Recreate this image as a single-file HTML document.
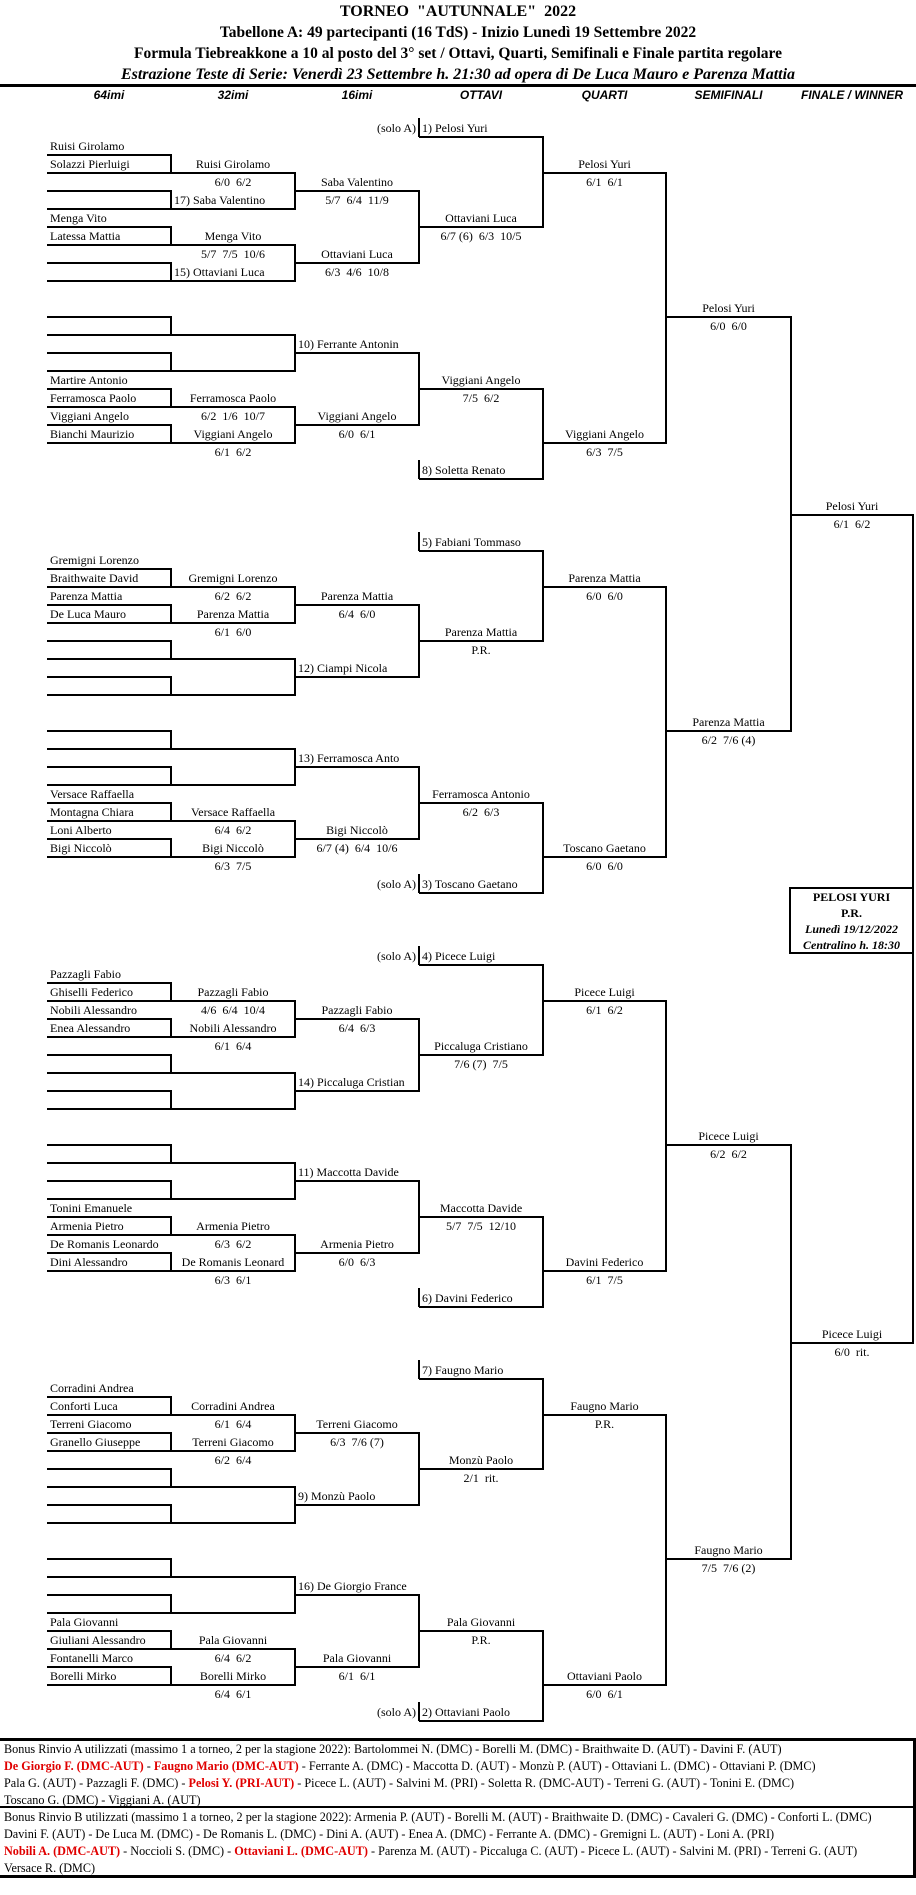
<!DOCTYPE html>
<html><head><meta charset="utf-8">
<style>
body{margin:0;width:916px;height:1895px;position:relative;background:#fff;overflow:hidden;font-family:"Liberation Serif","Times New Roman",serif;color:#000}
.t{position:absolute;height:18px;line-height:18px;font-size:12px;white-space:nowrap;overflow:visible}
.c0{left:47px;width:124px}.c1{left:171px;width:124px}.c2{left:295px;width:124px}.c3{left:419px;width:124px}.c4{left:543px;width:123px}.c5{left:666px;width:125px}.c6{left:791px;width:122px}
.l{text-align:left;padding-left:3px;box-sizing:border-box}.c{text-align:center}.r{text-align:right;padding-right:3px;box-sizing:border-box}
.ln{position:absolute;background:#000}
.ti{position:absolute;left:0;width:916px;text-align:center;font-weight:bold;font-size:15.5px;line-height:20px;white-space:nowrap}
.hd{position:absolute;top:86px;height:18px;line-height:18px;font-family:"Liberation Sans",Arial,sans-serif;font-style:italic;font-weight:bold;font-size:12px;text-align:center}
.bx{position:absolute;left:4px;font-size:12.2px;line-height:17px;white-space:nowrap}
.red{color:#e00000;font-weight:bold}
</style></head><body>
<div class="ti" style="top:2px;font-size:16px">TORNEO &nbsp;"AUTUNNALE" &nbsp;2022</div>
<div class="ti" style="top:23px">Tabellone A: 49 partecipanti (16 TdS) - Inizio Lunedì 19 Settembre 2022</div>
<div class="ti" style="top:44px">Formula Tiebreakkone a 10 al posto del 3° set / Ottavi, Quarti, Semifinali e Finale partita regolare</div>
<div class="ti" style="top:65px;font-style:italic;font-size:16px">Estrazione Teste di Serie: Venerdì 23 Settembre h. 21:30 ad opera di De Luca Mauro e Parenza Mattia</div>
<div class="ln" style="left:0;top:84px;width:916px;height:3px"></div>
<div class="hd c0">64imi</div><div class="hd c1">32imi</div><div class="hd c2">16imi</div><div class="hd c3">OTTAVI</div><div class="hd c4">QUARTI</div><div class="hd c5">SEMIFINALI</div><div class="hd c6">FINALE / WINNER</div>

<!-- Q1 -->
<div class="t c2 r" style="top:119px">(solo A)</div><div class="t c3 l" style="top:119px">1) Pelosi Yuri</div>
<div class="t c0 l" style="top:137px">Ruisi Girolamo</div>
<div class="t c0 l" style="top:155px">Solazzi Pierluigi</div><div class="t c1 c" style="top:155px">Ruisi Girolamo</div><div class="t c4 c" style="top:155px">Pelosi Yuri</div>
<div class="t c1 c" style="top:173px">6/0 &nbsp;6/2</div><div class="t c2 c" style="top:173px">Saba Valentino</div><div class="t c4 c" style="top:173px">6/1 &nbsp;6/1</div>
<div class="t c1 l" style="top:191px">17) Saba Valentino</div><div class="t c2 c" style="top:191px">5/7 &nbsp;6/4 &nbsp;11/9</div>
<div class="t c0 l" style="top:209px">Menga Vito</div><div class="t c3 c" style="top:209px">Ottaviani Luca</div>
<div class="t c0 l" style="top:227px">Latessa Mattia</div><div class="t c1 c" style="top:227px">Menga Vito</div><div class="t c3 c" style="top:227px">6/7 (6) &nbsp;6/3 &nbsp;10/5</div>
<div class="t c1 c" style="top:245px">5/7 &nbsp;7/5 &nbsp;10/6</div><div class="t c2 c" style="top:245px">Ottaviani Luca</div>
<div class="t c1 l" style="top:263px">15) Ottaviani Luca</div><div class="t c2 c" style="top:263px">6/3 &nbsp;4/6 &nbsp;10/8</div>
<div class="t c5 c" style="top:299px">Pelosi Yuri</div>
<div class="t c5 c" style="top:317px">6/0 &nbsp;6/0</div>
<div class="t c2 l" style="top:335px">10) Ferrante Antonin</div>
<div class="t c0 l" style="top:371px">Martire Antonio</div><div class="t c3 c" style="top:371px">Viggiani Angelo</div>
<div class="t c0 l" style="top:389px">Ferramosca Paolo</div><div class="t c1 c" style="top:389px">Ferramosca Paolo</div><div class="t c3 c" style="top:389px">7/5 &nbsp;6/2</div>
<div class="t c0 l" style="top:407px">Viggiani Angelo</div><div class="t c1 c" style="top:407px">6/2 &nbsp;1/6 &nbsp;10/7</div><div class="t c2 c" style="top:407px">Viggiani Angelo</div>
<div class="t c0 l" style="top:425px">Bianchi Maurizio</div><div class="t c1 c" style="top:425px">Viggiani Angelo</div><div class="t c2 c" style="top:425px">6/0 &nbsp;6/1</div><div class="t c4 c" style="top:425px">Viggiani Angelo</div>
<div class="t c1 c" style="top:443px">6/1 &nbsp;6/2</div><div class="t c4 c" style="top:443px">6/3 &nbsp;7/5</div>
<div class="t c3 l" style="top:461px">8) Soletta Renato</div>
<div class="t c6 c" style="top:497px">Pelosi Yuri</div>
<div class="t c6 c" style="top:515px">6/1 &nbsp;6/2</div>

<!-- Q2 -->
<div class="t c3 l" style="top:533px">5) Fabiani Tommaso</div>
<div class="t c0 l" style="top:551px">Gremigni Lorenzo</div>
<div class="t c0 l" style="top:569px">Braithwaite David</div><div class="t c1 c" style="top:569px">Gremigni Lorenzo</div><div class="t c4 c" style="top:569px">Parenza Mattia</div>
<div class="t c0 l" style="top:587px">Parenza Mattia</div><div class="t c1 c" style="top:587px">6/2 &nbsp;6/2</div><div class="t c2 c" style="top:587px">Parenza Mattia</div><div class="t c4 c" style="top:587px">6/0 &nbsp;6/0</div>
<div class="t c0 l" style="top:605px">De Luca Mauro</div><div class="t c1 c" style="top:605px">Parenza Mattia</div><div class="t c2 c" style="top:605px">6/4 &nbsp;6/0</div>
<div class="t c1 c" style="top:623px">6/1 &nbsp;6/0</div><div class="t c3 c" style="top:623px">Parenza Mattia</div>
<div class="t c3 c" style="top:641px">P.R.</div>
<div class="t c2 l" style="top:659px">12) Ciampi Nicola</div>
<div class="t c5 c" style="top:713px">Parenza Mattia</div>
<div class="t c5 c" style="top:731px">6/2 &nbsp;7/6 (4)</div>
<div class="t c2 l" style="top:749px">13) Ferramosca Anto</div>
<div class="t c0 l" style="top:785px">Versace Raffaella</div><div class="t c3 c" style="top:785px">Ferramosca Antonio</div>
<div class="t c0 l" style="top:803px">Montagna Chiara</div><div class="t c1 c" style="top:803px">Versace Raffaella</div><div class="t c3 c" style="top:803px">6/2 &nbsp;6/3</div>
<div class="t c0 l" style="top:821px">Loni Alberto</div><div class="t c1 c" style="top:821px">6/4 &nbsp;6/2</div><div class="t c2 c" style="top:821px">Bigi Niccolò</div>
<div class="t c0 l" style="top:839px">Bigi Niccolò</div><div class="t c1 c" style="top:839px">Bigi Niccolò</div><div class="t c2 c" style="top:839px">6/7 (4) &nbsp;6/4 &nbsp;10/6</div><div class="t c4 c" style="top:839px">Toscano Gaetano</div>
<div class="t c1 c" style="top:857px">6/3 &nbsp;7/5</div><div class="t c4 c" style="top:857px">6/0 &nbsp;6/0</div>
<div class="t c2 r" style="top:875px">(solo A)</div><div class="t c3 l" style="top:875px">3) Toscano Gaetano</div>

<!-- Winner box -->
<div style="position:absolute;left:789px;top:887px;width:121px;height:63px;border:2px solid #000;border-right:none;text-align:center;font-size:12px;line-height:16px;font-weight:bold">PELOSI YURI<br>P.R.<br><i>Lunedì 19/12/2022</i><br><i>Centralino h. 18:30</i></div>

<!-- Q3 -->
<div class="t c2 r" style="top:947px">(solo A)</div><div class="t c3 l" style="top:947px">4) Picece Luigi</div>
<div class="t c0 l" style="top:965px">Pazzagli Fabio</div>
<div class="t c0 l" style="top:983px">Ghiselli Federico</div><div class="t c1 c" style="top:983px">Pazzagli Fabio</div><div class="t c4 c" style="top:983px">Picece Luigi</div>
<div class="t c0 l" style="top:1001px">Nobili Alessandro</div><div class="t c1 c" style="top:1001px">4/6 &nbsp;6/4 &nbsp;10/4</div><div class="t c2 c" style="top:1001px">Pazzagli Fabio</div><div class="t c4 c" style="top:1001px">6/1 &nbsp;6/2</div>
<div class="t c0 l" style="top:1019px">Enea Alessandro</div><div class="t c1 c" style="top:1019px">Nobili Alessandro</div><div class="t c2 c" style="top:1019px">6/4 &nbsp;6/3</div>
<div class="t c1 c" style="top:1037px">6/1 &nbsp;6/4</div><div class="t c3 c" style="top:1037px">Piccaluga Cristiano</div>
<div class="t c3 c" style="top:1055px">7/6 (7) &nbsp;7/5</div>
<div class="t c2 l" style="top:1073px">14) Piccaluga Cristian</div>
<div class="t c5 c" style="top:1127px">Picece Luigi</div>
<div class="t c5 c" style="top:1145px">6/2 &nbsp;6/2</div>
<div class="t c2 l" style="top:1163px">11) Maccotta Davide</div>
<div class="t c0 l" style="top:1199px">Tonini Emanuele</div><div class="t c3 c" style="top:1199px">Maccotta Davide</div>
<div class="t c0 l" style="top:1217px">Armenia Pietro</div><div class="t c1 c" style="top:1217px">Armenia Pietro</div><div class="t c3 c" style="top:1217px">5/7 &nbsp;7/5 &nbsp;12/10</div>
<div class="t c0 l" style="top:1235px">De Romanis Leonardo</div><div class="t c1 c" style="top:1235px">6/3 &nbsp;6/2</div><div class="t c2 c" style="top:1235px">Armenia Pietro</div>
<div class="t c0 l" style="top:1253px">Dini Alessandro</div><div class="t c1 c" style="top:1253px">De Romanis Leonard</div><div class="t c2 c" style="top:1253px">6/0 &nbsp;6/3</div><div class="t c4 c" style="top:1253px">Davini Federico</div>
<div class="t c1 c" style="top:1271px">6/3 &nbsp;6/1</div><div class="t c4 c" style="top:1271px">6/1 &nbsp;7/5</div>
<div class="t c3 l" style="top:1289px">6) Davini Federico</div>
<div class="t c6 c" style="top:1325px">Picece Luigi</div>
<div class="t c6 c" style="top:1343px">6/0 &nbsp;rit.</div>

<!-- Q4 -->
<div class="t c3 l" style="top:1361px">7) Faugno Mario</div>
<div class="t c0 l" style="top:1379px">Corradini Andrea</div>
<div class="t c0 l" style="top:1397px">Conforti Luca</div><div class="t c1 c" style="top:1397px">Corradini Andrea</div><div class="t c4 c" style="top:1397px">Faugno Mario</div>
<div class="t c0 l" style="top:1415px">Terreni Giacomo</div><div class="t c1 c" style="top:1415px">6/1 &nbsp;6/4</div><div class="t c2 c" style="top:1415px">Terreni Giacomo</div><div class="t c4 c" style="top:1415px">P.R.</div>
<div class="t c0 l" style="top:1433px">Granello Giuseppe</div><div class="t c1 c" style="top:1433px">Terreni Giacomo</div><div class="t c2 c" style="top:1433px">6/3 &nbsp;7/6 (7)</div>
<div class="t c1 c" style="top:1451px">6/2 &nbsp;6/4</div><div class="t c3 c" style="top:1451px">Monzù Paolo</div>
<div class="t c3 c" style="top:1469px">2/1 &nbsp;rit.</div>
<div class="t c2 l" style="top:1487px">9) Monzù Paolo</div>
<div class="t c5 c" style="top:1541px">Faugno Mario</div>
<div class="t c5 c" style="top:1559px">7/5 &nbsp;7/6 (2)</div>
<div class="t c2 l" style="top:1577px">16) De Giorgio France</div>
<div class="t c0 l" style="top:1613px">Pala Giovanni</div><div class="t c3 c" style="top:1613px">Pala Giovanni</div>
<div class="t c0 l" style="top:1631px">Giuliani Alessandro</div><div class="t c1 c" style="top:1631px">Pala Giovanni</div><div class="t c3 c" style="top:1631px">P.R.</div>
<div class="t c0 l" style="top:1649px">Fontanelli Marco</div><div class="t c1 c" style="top:1649px">6/4 &nbsp;6/2</div><div class="t c2 c" style="top:1649px">Pala Giovanni</div>
<div class="t c0 l" style="top:1667px">Borelli Mirko</div><div class="t c1 c" style="top:1667px">Borelli Mirko</div><div class="t c2 c" style="top:1667px">6/1 &nbsp;6/1</div><div class="t c4 c" style="top:1667px">Ottaviani Paolo</div>
<div class="t c1 c" style="top:1685px">6/4 &nbsp;6/1</div><div class="t c4 c" style="top:1685px">6/0 &nbsp;6/1</div>
<div class="t c2 r" style="top:1703px">(solo A)</div><div class="t c3 l" style="top:1703px">2) Ottaviani Paolo</div>

<!-- bottom box -->
<div class="ln" style="left:0;top:1738px;width:916px;height:3px"></div>
<div class="ln" style="left:0;top:1806px;width:916px;height:2px"></div>
<div class="ln" style="left:0;top:1875px;width:916px;height:3px"></div>
<div class="ln" style="left:913px;top:1738px;width:3px;height:140px"></div>
<div class="bx" style="top:1741px">Bonus Rinvio A utilizzati (massimo 1 a torneo, 2 per la stagione 2022): Bartolommei N. (DMC) - Borelli M. (DMC) - Braithwaite D. (AUT) - Davini F. (AUT)</div>
<div class="bx" style="top:1758px"><span class="red">De Giorgio F. (DMC-AUT)</span> - <span class="red">Faugno Mario (DMC-AUT)</span> - Ferrante A. (DMC) - Maccotta D. (AUT) - Monzù P. (AUT) - Ottaviani L. (DMC) - Ottaviani P. (DMC)</div>
<div class="bx" style="top:1775px">Pala G. (AUT) - Pazzagli F. (DMC) - <span class="red">Pelosi Y. (PRI-AUT)</span> - Picece L. (AUT) - Salvini M. (PRI) - Soletta R. (DMC-AUT) - Terreni G. (AUT) - Tonini E. (DMC)</div>
<div class="bx" style="top:1792px">Toscano G. (DMC) - Viggiani A. (AUT)</div>
<div class="bx" style="top:1809px">Bonus Rinvio B utilizzati (massimo 1 a torneo, 2 per la stagione 2022): Armenia P. (AUT) - Borelli M. (AUT) - Braithwaite D. (DMC) - Cavaleri G. (DMC) - Conforti L. (DMC)</div>
<div class="bx" style="top:1826px">Davini F. (AUT) - De Luca M. (DMC) - De Romanis L. (DMC) - Dini A. (AUT) - Enea A. (DMC) - Ferrante A. (DMC) - Gremigni L. (AUT) - Loni A. (PRI)</div>
<div class="bx" style="top:1843px"><span class="red">Nobili A. (DMC-AUT)</span> - Noccioli S. (DMC) - <span class="red">Ottaviani L. (DMC-AUT)</span> - Parenza M. (AUT) - Piccaluga C. (AUT) - Picece L. (AUT) - Salvini M. (PRI) - Terreni G. (AUT)</div>
<div class="bx" style="top:1860px">Versace R. (DMC)</div>

<!-- bracket lines -->
<div class="ln" style="left:47px;top:154px;width:125px;height:2px"></div><div class="ln" style="left:47px;top:172px;width:125px;height:2px"></div><div class="ln" style="left:47px;top:190px;width:125px;height:2px"></div><div class="ln" style="left:47px;top:208px;width:125px;height:2px"></div><div class="ln" style="left:47px;top:226px;width:125px;height:2px"></div><div class="ln" style="left:47px;top:244px;width:125px;height:2px"></div><div class="ln" style="left:47px;top:262px;width:125px;height:2px"></div><div class="ln" style="left:47px;top:280px;width:125px;height:2px"></div><div class="ln" style="left:170px;top:154px;width:2px;height:20px"></div><div class="ln" style="left:171px;top:172px;width:125px;height:2px"></div><div class="ln" style="left:170px;top:190px;width:2px;height:20px"></div><div class="ln" style="left:171px;top:208px;width:125px;height:2px"></div><div class="ln" style="left:170px;top:226px;width:2px;height:20px"></div><div class="ln" style="left:171px;top:244px;width:125px;height:2px"></div><div class="ln" style="left:170px;top:262px;width:2px;height:20px"></div><div class="ln" style="left:171px;top:280px;width:125px;height:2px"></div><div class="ln" style="left:294px;top:172px;width:2px;height:38px"></div><div class="ln" style="left:294px;top:244px;width:2px;height:38px"></div><div class="ln" style="left:295px;top:190px;width:125px;height:2px"></div><div class="ln" style="left:295px;top:262px;width:125px;height:2px"></div><div class="ln" style="left:418px;top:190px;width:2px;height:74px"></div><div class="ln" style="left:419px;top:226px;width:125px;height:2px"></div><div class="ln" style="left:47px;top:316px;width:125px;height:2px"></div><div class="ln" style="left:47px;top:334px;width:125px;height:2px"></div><div class="ln" style="left:47px;top:352px;width:125px;height:2px"></div><div class="ln" style="left:47px;top:370px;width:125px;height:2px"></div><div class="ln" style="left:47px;top:388px;width:125px;height:2px"></div><div class="ln" style="left:47px;top:406px;width:125px;height:2px"></div><div class="ln" style="left:47px;top:424px;width:125px;height:2px"></div><div class="ln" style="left:47px;top:442px;width:125px;height:2px"></div><div class="ln" style="left:170px;top:316px;width:2px;height:20px"></div><div class="ln" style="left:171px;top:334px;width:125px;height:2px"></div><div class="ln" style="left:170px;top:352px;width:2px;height:20px"></div><div class="ln" style="left:171px;top:370px;width:125px;height:2px"></div><div class="ln" style="left:170px;top:388px;width:2px;height:20px"></div><div class="ln" style="left:171px;top:406px;width:125px;height:2px"></div><div class="ln" style="left:170px;top:424px;width:2px;height:20px"></div><div class="ln" style="left:171px;top:442px;width:125px;height:2px"></div><div class="ln" style="left:294px;top:334px;width:2px;height:38px"></div><div class="ln" style="left:294px;top:406px;width:2px;height:38px"></div><div class="ln" style="left:295px;top:352px;width:125px;height:2px"></div><div class="ln" style="left:295px;top:424px;width:125px;height:2px"></div><div class="ln" style="left:418px;top:352px;width:2px;height:74px"></div><div class="ln" style="left:419px;top:388px;width:125px;height:2px"></div><div class="ln" style="left:419px;top:136px;width:125px;height:2px"></div><div class="ln" style="left:418px;top:118px;width:2px;height:19px"></div><div class="ln" style="left:542px;top:136px;width:2px;height:92px"></div><div class="ln" style="left:419px;top:478px;width:125px;height:2px"></div><div class="ln" style="left:418px;top:460px;width:2px;height:19px"></div><div class="ln" style="left:542px;top:388px;width:2px;height:92px"></div><div class="ln" style="left:543px;top:172px;width:124px;height:2px"></div><div class="ln" style="left:543px;top:442px;width:124px;height:2px"></div><div class="ln" style="left:665px;top:172px;width:2px;height:272px"></div><div class="ln" style="left:666px;top:316px;width:126px;height:2px"></div>
<div class="ln" style="left:47px;top:568px;width:125px;height:2px"></div><div class="ln" style="left:47px;top:586px;width:125px;height:2px"></div><div class="ln" style="left:47px;top:604px;width:125px;height:2px"></div><div class="ln" style="left:47px;top:622px;width:125px;height:2px"></div><div class="ln" style="left:47px;top:640px;width:125px;height:2px"></div><div class="ln" style="left:47px;top:658px;width:125px;height:2px"></div><div class="ln" style="left:47px;top:676px;width:125px;height:2px"></div><div class="ln" style="left:47px;top:694px;width:125px;height:2px"></div><div class="ln" style="left:170px;top:568px;width:2px;height:20px"></div><div class="ln" style="left:171px;top:586px;width:125px;height:2px"></div><div class="ln" style="left:170px;top:604px;width:2px;height:20px"></div><div class="ln" style="left:171px;top:622px;width:125px;height:2px"></div><div class="ln" style="left:170px;top:640px;width:2px;height:20px"></div><div class="ln" style="left:171px;top:658px;width:125px;height:2px"></div><div class="ln" style="left:170px;top:676px;width:2px;height:20px"></div><div class="ln" style="left:171px;top:694px;width:125px;height:2px"></div><div class="ln" style="left:294px;top:586px;width:2px;height:38px"></div><div class="ln" style="left:294px;top:658px;width:2px;height:38px"></div><div class="ln" style="left:295px;top:604px;width:125px;height:2px"></div><div class="ln" style="left:295px;top:676px;width:125px;height:2px"></div><div class="ln" style="left:418px;top:604px;width:2px;height:74px"></div><div class="ln" style="left:419px;top:640px;width:125px;height:2px"></div><div class="ln" style="left:47px;top:730px;width:125px;height:2px"></div><div class="ln" style="left:47px;top:748px;width:125px;height:2px"></div><div class="ln" style="left:47px;top:766px;width:125px;height:2px"></div><div class="ln" style="left:47px;top:784px;width:125px;height:2px"></div><div class="ln" style="left:47px;top:802px;width:125px;height:2px"></div><div class="ln" style="left:47px;top:820px;width:125px;height:2px"></div><div class="ln" style="left:47px;top:838px;width:125px;height:2px"></div><div class="ln" style="left:47px;top:856px;width:125px;height:2px"></div><div class="ln" style="left:170px;top:730px;width:2px;height:20px"></div><div class="ln" style="left:171px;top:748px;width:125px;height:2px"></div><div class="ln" style="left:170px;top:766px;width:2px;height:20px"></div><div class="ln" style="left:171px;top:784px;width:125px;height:2px"></div><div class="ln" style="left:170px;top:802px;width:2px;height:20px"></div><div class="ln" style="left:171px;top:820px;width:125px;height:2px"></div><div class="ln" style="left:170px;top:838px;width:2px;height:20px"></div><div class="ln" style="left:171px;top:856px;width:125px;height:2px"></div><div class="ln" style="left:294px;top:748px;width:2px;height:38px"></div><div class="ln" style="left:294px;top:820px;width:2px;height:38px"></div><div class="ln" style="left:295px;top:766px;width:125px;height:2px"></div><div class="ln" style="left:295px;top:838px;width:125px;height:2px"></div><div class="ln" style="left:418px;top:766px;width:2px;height:74px"></div><div class="ln" style="left:419px;top:802px;width:125px;height:2px"></div><div class="ln" style="left:419px;top:550px;width:125px;height:2px"></div><div class="ln" style="left:418px;top:532px;width:2px;height:19px"></div><div class="ln" style="left:542px;top:550px;width:2px;height:92px"></div><div class="ln" style="left:419px;top:892px;width:125px;height:2px"></div><div class="ln" style="left:418px;top:874px;width:2px;height:19px"></div><div class="ln" style="left:542px;top:802px;width:2px;height:92px"></div><div class="ln" style="left:543px;top:586px;width:124px;height:2px"></div><div class="ln" style="left:543px;top:856px;width:124px;height:2px"></div><div class="ln" style="left:665px;top:586px;width:2px;height:272px"></div><div class="ln" style="left:666px;top:730px;width:126px;height:2px"></div>
<div class="ln" style="left:47px;top:982px;width:125px;height:2px"></div><div class="ln" style="left:47px;top:1000px;width:125px;height:2px"></div><div class="ln" style="left:47px;top:1018px;width:125px;height:2px"></div><div class="ln" style="left:47px;top:1036px;width:125px;height:2px"></div><div class="ln" style="left:47px;top:1054px;width:125px;height:2px"></div><div class="ln" style="left:47px;top:1072px;width:125px;height:2px"></div><div class="ln" style="left:47px;top:1090px;width:125px;height:2px"></div><div class="ln" style="left:47px;top:1108px;width:125px;height:2px"></div><div class="ln" style="left:170px;top:982px;width:2px;height:20px"></div><div class="ln" style="left:171px;top:1000px;width:125px;height:2px"></div><div class="ln" style="left:170px;top:1018px;width:2px;height:20px"></div><div class="ln" style="left:171px;top:1036px;width:125px;height:2px"></div><div class="ln" style="left:170px;top:1054px;width:2px;height:20px"></div><div class="ln" style="left:171px;top:1072px;width:125px;height:2px"></div><div class="ln" style="left:170px;top:1090px;width:2px;height:20px"></div><div class="ln" style="left:171px;top:1108px;width:125px;height:2px"></div><div class="ln" style="left:294px;top:1000px;width:2px;height:38px"></div><div class="ln" style="left:294px;top:1072px;width:2px;height:38px"></div><div class="ln" style="left:295px;top:1018px;width:125px;height:2px"></div><div class="ln" style="left:295px;top:1090px;width:125px;height:2px"></div><div class="ln" style="left:418px;top:1018px;width:2px;height:74px"></div><div class="ln" style="left:419px;top:1054px;width:125px;height:2px"></div><div class="ln" style="left:47px;top:1144px;width:125px;height:2px"></div><div class="ln" style="left:47px;top:1162px;width:125px;height:2px"></div><div class="ln" style="left:47px;top:1180px;width:125px;height:2px"></div><div class="ln" style="left:47px;top:1198px;width:125px;height:2px"></div><div class="ln" style="left:47px;top:1216px;width:125px;height:2px"></div><div class="ln" style="left:47px;top:1234px;width:125px;height:2px"></div><div class="ln" style="left:47px;top:1252px;width:125px;height:2px"></div><div class="ln" style="left:47px;top:1270px;width:125px;height:2px"></div><div class="ln" style="left:170px;top:1144px;width:2px;height:20px"></div><div class="ln" style="left:171px;top:1162px;width:125px;height:2px"></div><div class="ln" style="left:170px;top:1180px;width:2px;height:20px"></div><div class="ln" style="left:171px;top:1198px;width:125px;height:2px"></div><div class="ln" style="left:170px;top:1216px;width:2px;height:20px"></div><div class="ln" style="left:171px;top:1234px;width:125px;height:2px"></div><div class="ln" style="left:170px;top:1252px;width:2px;height:20px"></div><div class="ln" style="left:171px;top:1270px;width:125px;height:2px"></div><div class="ln" style="left:294px;top:1162px;width:2px;height:38px"></div><div class="ln" style="left:294px;top:1234px;width:2px;height:38px"></div><div class="ln" style="left:295px;top:1180px;width:125px;height:2px"></div><div class="ln" style="left:295px;top:1252px;width:125px;height:2px"></div><div class="ln" style="left:418px;top:1180px;width:2px;height:74px"></div><div class="ln" style="left:419px;top:1216px;width:125px;height:2px"></div><div class="ln" style="left:419px;top:964px;width:125px;height:2px"></div><div class="ln" style="left:418px;top:946px;width:2px;height:19px"></div><div class="ln" style="left:542px;top:964px;width:2px;height:92px"></div><div class="ln" style="left:419px;top:1306px;width:125px;height:2px"></div><div class="ln" style="left:418px;top:1288px;width:2px;height:19px"></div><div class="ln" style="left:542px;top:1216px;width:2px;height:92px"></div><div class="ln" style="left:543px;top:1000px;width:124px;height:2px"></div><div class="ln" style="left:543px;top:1270px;width:124px;height:2px"></div><div class="ln" style="left:665px;top:1000px;width:2px;height:272px"></div><div class="ln" style="left:666px;top:1144px;width:126px;height:2px"></div>
<div class="ln" style="left:47px;top:1396px;width:125px;height:2px"></div><div class="ln" style="left:47px;top:1414px;width:125px;height:2px"></div><div class="ln" style="left:47px;top:1432px;width:125px;height:2px"></div><div class="ln" style="left:47px;top:1450px;width:125px;height:2px"></div><div class="ln" style="left:47px;top:1468px;width:125px;height:2px"></div><div class="ln" style="left:47px;top:1486px;width:125px;height:2px"></div><div class="ln" style="left:47px;top:1504px;width:125px;height:2px"></div><div class="ln" style="left:47px;top:1522px;width:125px;height:2px"></div><div class="ln" style="left:170px;top:1396px;width:2px;height:20px"></div><div class="ln" style="left:171px;top:1414px;width:125px;height:2px"></div><div class="ln" style="left:170px;top:1432px;width:2px;height:20px"></div><div class="ln" style="left:171px;top:1450px;width:125px;height:2px"></div><div class="ln" style="left:170px;top:1468px;width:2px;height:20px"></div><div class="ln" style="left:171px;top:1486px;width:125px;height:2px"></div><div class="ln" style="left:170px;top:1504px;width:2px;height:20px"></div><div class="ln" style="left:171px;top:1522px;width:125px;height:2px"></div><div class="ln" style="left:294px;top:1414px;width:2px;height:38px"></div><div class="ln" style="left:294px;top:1486px;width:2px;height:38px"></div><div class="ln" style="left:295px;top:1432px;width:125px;height:2px"></div><div class="ln" style="left:295px;top:1504px;width:125px;height:2px"></div><div class="ln" style="left:418px;top:1432px;width:2px;height:74px"></div><div class="ln" style="left:419px;top:1468px;width:125px;height:2px"></div><div class="ln" style="left:47px;top:1558px;width:125px;height:2px"></div><div class="ln" style="left:47px;top:1576px;width:125px;height:2px"></div><div class="ln" style="left:47px;top:1594px;width:125px;height:2px"></div><div class="ln" style="left:47px;top:1612px;width:125px;height:2px"></div><div class="ln" style="left:47px;top:1630px;width:125px;height:2px"></div><div class="ln" style="left:47px;top:1648px;width:125px;height:2px"></div><div class="ln" style="left:47px;top:1666px;width:125px;height:2px"></div><div class="ln" style="left:47px;top:1684px;width:125px;height:2px"></div><div class="ln" style="left:170px;top:1558px;width:2px;height:20px"></div><div class="ln" style="left:171px;top:1576px;width:125px;height:2px"></div><div class="ln" style="left:170px;top:1594px;width:2px;height:20px"></div><div class="ln" style="left:171px;top:1612px;width:125px;height:2px"></div><div class="ln" style="left:170px;top:1630px;width:2px;height:20px"></div><div class="ln" style="left:171px;top:1648px;width:125px;height:2px"></div><div class="ln" style="left:170px;top:1666px;width:2px;height:20px"></div><div class="ln" style="left:171px;top:1684px;width:125px;height:2px"></div><div class="ln" style="left:294px;top:1576px;width:2px;height:38px"></div><div class="ln" style="left:294px;top:1648px;width:2px;height:38px"></div><div class="ln" style="left:295px;top:1594px;width:125px;height:2px"></div><div class="ln" style="left:295px;top:1666px;width:125px;height:2px"></div><div class="ln" style="left:418px;top:1594px;width:2px;height:74px"></div><div class="ln" style="left:419px;top:1630px;width:125px;height:2px"></div><div class="ln" style="left:419px;top:1378px;width:125px;height:2px"></div><div class="ln" style="left:418px;top:1360px;width:2px;height:19px"></div><div class="ln" style="left:542px;top:1378px;width:2px;height:92px"></div><div class="ln" style="left:419px;top:1720px;width:125px;height:2px"></div><div class="ln" style="left:418px;top:1702px;width:2px;height:19px"></div><div class="ln" style="left:542px;top:1630px;width:2px;height:92px"></div><div class="ln" style="left:543px;top:1414px;width:124px;height:2px"></div><div class="ln" style="left:543px;top:1684px;width:124px;height:2px"></div><div class="ln" style="left:665px;top:1414px;width:2px;height:272px"></div><div class="ln" style="left:666px;top:1558px;width:126px;height:2px"></div>
<div class="ln" style="left:790px;top:316px;width:2px;height:416px"></div><div class="ln" style="left:791px;top:514px;width:123px;height:2px"></div><div class="ln" style="left:790px;top:1144px;width:2px;height:416px"></div><div class="ln" style="left:791px;top:1342px;width:123px;height:2px"></div><div class="ln" style="left:912px;top:514px;width:2px;height:830px"></div>
</body></html>
